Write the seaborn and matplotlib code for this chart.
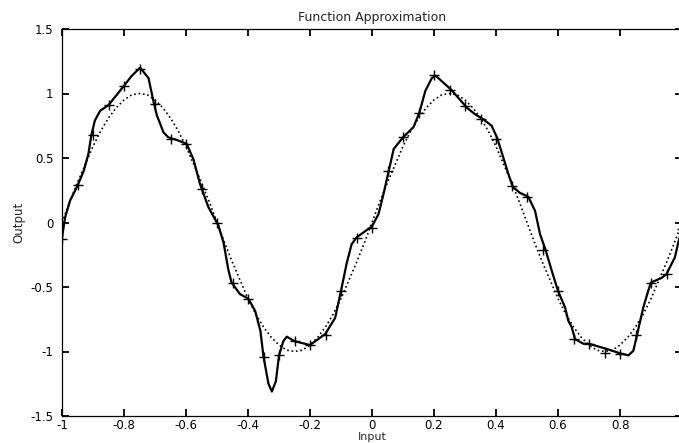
import numpy as np
import matplotlib
matplotlib.use("Agg")
import matplotlib.pyplot as plt
import seaborn as sns

# --- dane ---
# punkty treningowe (+), siatka co 0.05
train_x = np.linspace(-1, 1, 41)
train_y = [-0.13, 0.29, 0.68, 0.91, 1.06, 1.19, 0.92, 0.65, 0.61, 0.26,
           0.00, -0.47, -0.59, -1.04, -1.03, -0.92, -0.95, -0.87, -0.53, -0.12,
           -0.04, 0.40, 0.66, 0.85, 1.14, 1.03, 0.90, 0.80, 0.65, 0.28,
           0.20, -0.21, -0.53, -0.90, -0.94, -1.01, -1.02, -0.87, -0.47, -0.40,
           -0.05]

# funkcja docelowa (linia kropkowana), siatka co 0.025
sine_x = np.linspace(-1, 1, 81)
sine_y = [0.00, 0.16, 0.31, 0.45, 0.59, 0.71, 0.81, 0.89, 0.95, 0.99,
          1.00, 0.99, 0.95, 0.89, 0.81, 0.71, 0.59, 0.45, 0.31, 0.16,
          0.00, -0.16, -0.31, -0.45, -0.59, -0.71, -0.81, -0.89, -0.95, -0.99,
          -1.00, -0.99, -0.95, -0.89, -0.81, -0.71, -0.59, -0.45, -0.31, -0.16,
          0.00, 0.16, 0.31, 0.45, 0.59, 0.71, 0.81, 0.89, 0.95, 0.99,
          1.00, 0.99, 0.95, 0.89, 0.81, 0.71, 0.59, 0.45, 0.31, 0.16,
          0.00, -0.16, -0.31, -0.45, -0.59, -0.71, -0.81, -0.89, -0.95, -0.99,
          -1.00, -0.99, -0.95, -0.89, -0.81, -0.71, -0.59, -0.45, -0.31, -0.16,
          0.00]

# odpowiedz sieci (linia ciagla)
net_x = [-1.000, -0.990, -0.974, -0.950, -0.930, -0.915, -0.905, -0.894, -0.877, -0.850,
         -0.830, -0.800, -0.775, -0.748, -0.721, -0.705, -0.694, -0.684, -0.673, -0.657,
         -0.630, -0.598, -0.576, -0.555, -0.528, -0.496, -0.479, -0.463, -0.453, -0.426,
         -0.399, -0.377, -0.360, -0.350, -0.334, -0.323, -0.310, -0.300, -0.286, -0.275,
         -0.250, -0.200, -0.151, -0.119, -0.100, -0.082, -0.066, -0.050, -0.012, 0.000,
         0.021, 0.037, 0.054, 0.070, 0.100, 0.134, 0.153, 0.172, 0.193, 0.206,
         0.257, 0.306, 0.332, 0.359, 0.386, 0.404, 0.424, 0.440, 0.454, 0.477,
         0.504, 0.526, 0.542, 0.559, 0.580, 0.600, 0.623, 0.633, 0.644, 0.655,
         0.682, 0.700, 0.757, 0.795, 0.827, 0.843, 0.855, 0.875, 0.891, 0.900,
         0.934, 0.950, 0.977, 0.988, 1.000]
net_y = [-0.12, 0.04, 0.17, 0.285, 0.40, 0.53, 0.68, 0.79, 0.866, 0.91,
         0.97, 1.06, 1.137, 1.20, 1.12, 0.94, 0.83, 0.77, 0.70, 0.66,
         0.64, 0.61, 0.49, 0.30, 0.12, -0.02, -0.155, -0.37, -0.465, -0.555,
         -0.59, -0.685, -0.84, -1.04, -1.25, -1.31, -1.23, -1.03, -0.92, -0.885,
         -0.92, -0.95, -0.865, -0.74, -0.53, -0.32, -0.17, -0.116, -0.05, -0.03,
         0.065, 0.22, 0.40, 0.57, 0.66, 0.74, 0.853, 1.02, 1.12, 1.137,
         1.026, 0.89, 0.84, 0.80, 0.75, 0.654, 0.50, 0.375, 0.277, 0.23,
         0.20, 0.09, -0.09, -0.206, -0.375, -0.53, -0.66, -0.76, -0.81, -0.904,
         -0.94, -0.94, -0.98, -1.01, -1.03, -0.995, -0.87, -0.66, -0.53, -0.465,
         -0.43, -0.40, -0.27, -0.155, -0.05]

x_ticks = [-1, -0.8, -0.6, -0.4, -0.2, 0, 0.2, 0.4, 0.6, 0.8, 1]
# etykieta "1" lezy poza obrazem w oryginale
x_labels = ['-1', '-0.8', '-0.6', '-0.4', '-0.2', '0', '0.2', '0.4', '0.6', '0.8', '']
y_ticks = [-1.5, -1, -0.5, 0, 0.5, 1, 1.5]
y_labels = ['-1.5', '-1', '-0.5', '0', '0.5', '1', '1.5']

# --- styl ---
sns.set_style("ticks")
plt.rcParams['font.family'] = ['DejaVu Sans']
plt.rcParams['axes.edgecolor'] = 'black'
plt.rcParams['axes.linewidth'] = 0.9

fig = plt.figure(figsize=(6.79, 4.43), dpi=100)
fig.patch.set_facecolor('white')
# os wychodzi lekko poza prawa krawedz (jak w oryginale)
ax = fig.add_axes([62 / 679, 27 / 443, 620 / 679, 387 / 443])

sns.lineplot(x=net_x, y=net_y, ax=ax, color='black', linewidth=1.6,
             sort=False, estimator=None)
sns.lineplot(x=sine_x, y=sine_y, ax=ax, color='black', linewidth=1.2,
             linestyle=':', sort=False, estimator=None)
sns.scatterplot(x=train_x, y=train_y, ax=ax, marker='+', s=60,
                color='black', linewidth=1.0, zorder=3)

ax.set_xlim(-1, 1)
ax.set_ylim(-1.5, 1.5)
ax.set_xticks(x_ticks)
ax.set_xticklabels(x_labels)
ax.set_yticks(y_ticks)
ax.set_yticklabels(y_labels)
ax.tick_params(direction='in', length=5, width=1.3, top=True, right=True,
               labelsize=8.5, colors='black')
ax.tick_params(axis='x', pad=2.5)
ax.tick_params(axis='y', pad=6)

ax.set_title('Function Approximation', fontsize=9, pad=6)
ax.set_xlabel('Input', fontsize=8, labelpad=0)
ax.set_ylabel('Output', fontsize=8.5, labelpad=4)

fig.savefig('out.png', dpi=100, facecolor='white')
plt.close()
